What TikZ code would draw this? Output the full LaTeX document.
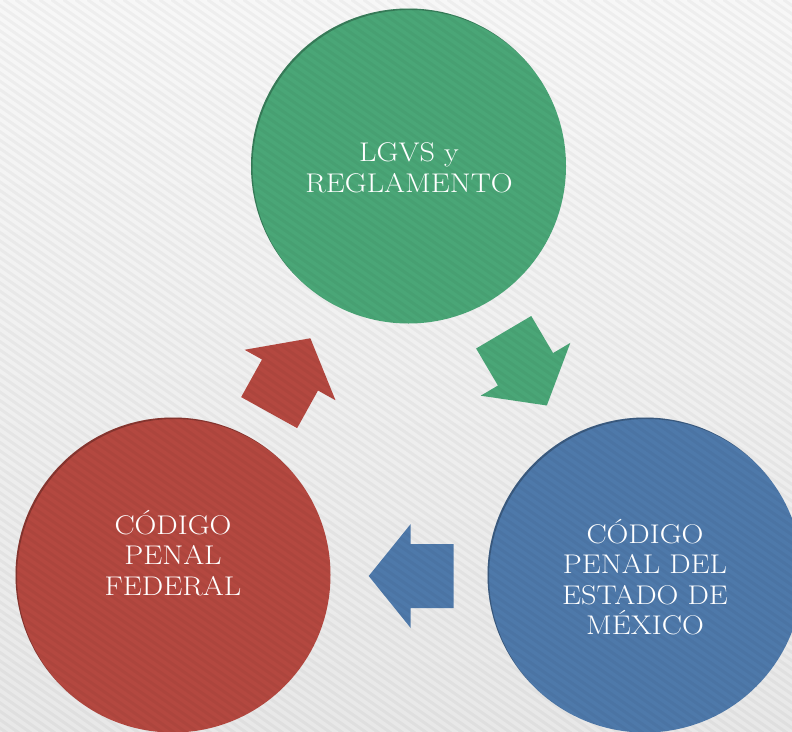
\documentclass[tikz,border=0pt]{standalone}
\usepackage{fontspec}
\setmainfont{Latin Modern Roman}[FakeStretch=1.12]

\definecolor{verde}{RGB}{74,166,119}
\definecolor{rojo}{RGB}{180,72,64}
\definecolor{azul}{RGB}{78,121,170}

\begin{document}
\begin{tikzpicture}[x=1pt,y=-1pt,line join=round,line cap=round,font=\fontsize{27}{30.5}\selectfont]
	\tikzset{disco/.style={circle,minimum size=315pt,inner sep=0pt,
			path picture={\draw[line width=3pt,black,opacity=.25] ([shift={(1.5pt,-1.5pt)}]path picture bounding box.center) circle (159pt);}},
		rotulo/.style={text=white,align=center,inner sep=0pt},
		raya/.style={line width=3pt,black,opacity=.035},
		flecha/.pic={\fill[#1] (-43,-32) -- (0,-32) -- (0,-52) -- (42,0) -- (0,52) -- (0,32) -- (-43,32) -- cycle;}}
	\useasboundingbox (0,0) rectangle (792,731);
	\clip (0,0) rectangle (792,731);
	\fill[top color=white!97!black,bottom color=white!91!black] (0,0) rectangle (792,731);
	% circulos
	\node[disco,fill=verde] (lgvs) at (408.5,166) {};
	\node[disco,fill=azul] (cpem) at (645,575) {};
	\node[disco,fill=rojo] (cpf) at (173,575) {};
	% flechas
	\pic[rotate=-59.5] at (525.5,369.3) {flecha=verde};
	\pic[rotate=180] at (410.7,576) {flecha=azul};
	\pic[rotate=61] at (290,375) {flecha=rojo};
	% textura
	\foreach \k in {0,...,160}
		\draw[raya] (\k*12-1100,0) -- ++(1100,770);
	% textos
	\node[rotulo] (lgvs-txt) at (409,168) {LGVS y\\REGLAMENTO};
	\node[rotulo] (cpem-txt) at (645,577) {CÓDIGO\\PENAL DEL\\ESTADO DE\\MÉXICO};
	\node[rotulo] (cpf-txt) at (173,553) {CÓDIGO\\PENAL\\FEDERAL};
\end{tikzpicture}
\end{document}
